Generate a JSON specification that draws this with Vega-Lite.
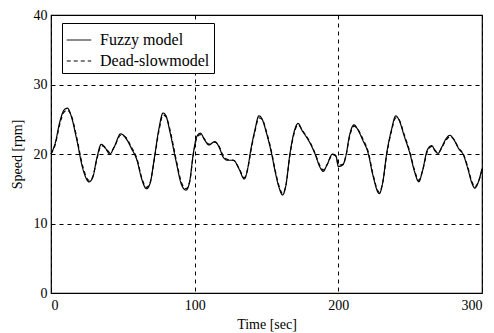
{
  "$schema": "https://vega.github.io/schema/vega-lite/v6.json",
  "width": 431,
  "height": 278,
  "autosize": "none",
  "padding": {"left": 51, "top": 15, "right": 12, "bottom": 40},
  "background": "white",
  "config": {
    "view": {"stroke": "black", "strokeWidth": 1.2},
    "font": "Liberation Serif",
    "axis": {
      "labelFont": "Liberation Serif",
      "titleFont": "Liberation Serif",
      "labelColor": "black",
      "titleColor": "black",
      "labelFontSize": 14,
      "titleFontSize": 14,
      "titleFontWeight": "normal",
      "domain": false,
      "ticks": false,
      "grid": true,
      "gridColor": "black",
      "gridDash": [4, 4],
      "gridWidth": 1,
      "gridOpacity": 1
    }
  },
  "datasets": {
    "speed": [
      {"t": 0, "y": 20, "model": "Fuzzy model"},
      {"t": 3, "y": 21.6, "model": "Fuzzy model"},
      {"t": 6, "y": 24.5, "model": "Fuzzy model"},
      {"t": 9, "y": 26.3, "model": "Fuzzy model"},
      {"t": 11.5, "y": 26.6, "model": "Fuzzy model"},
      {"t": 14, "y": 25.5, "model": "Fuzzy model"},
      {"t": 18, "y": 22, "model": "Fuzzy model"},
      {"t": 22, "y": 18, "model": "Fuzzy model"},
      {"t": 26.5, "y": 16, "model": "Fuzzy model"},
      {"t": 29, "y": 16.6, "model": "Fuzzy model"},
      {"t": 32, "y": 19.5, "model": "Fuzzy model"},
      {"t": 35, "y": 21.4, "model": "Fuzzy model"},
      {"t": 38, "y": 20.8, "model": "Fuzzy model"},
      {"t": 41, "y": 20, "model": "Fuzzy model"},
      {"t": 44, "y": 21, "model": "Fuzzy model"},
      {"t": 48.5, "y": 22.9, "model": "Fuzzy model"},
      {"t": 52, "y": 22.3, "model": "Fuzzy model"},
      {"t": 56, "y": 20.8, "model": "Fuzzy model"},
      {"t": 60, "y": 19, "model": "Fuzzy model"},
      {"t": 63, "y": 16.5, "model": "Fuzzy model"},
      {"t": 66.5, "y": 15, "model": "Fuzzy model"},
      {"t": 69, "y": 15.8, "model": "Fuzzy model"},
      {"t": 72, "y": 19.5, "model": "Fuzzy model"},
      {"t": 75, "y": 23.5, "model": "Fuzzy model"},
      {"t": 78, "y": 25.9, "model": "Fuzzy model"},
      {"t": 80, "y": 25.5, "model": "Fuzzy model"},
      {"t": 83, "y": 23, "model": "Fuzzy model"},
      {"t": 87, "y": 19, "model": "Fuzzy model"},
      {"t": 91, "y": 15.5, "model": "Fuzzy model"},
      {"t": 94, "y": 14.8, "model": "Fuzzy model"},
      {"t": 96.5, "y": 16, "model": "Fuzzy model"},
      {"t": 99, "y": 20, "model": "Fuzzy model"},
      {"t": 101.5, "y": 22.5, "model": "Fuzzy model"},
      {"t": 104, "y": 23, "model": "Fuzzy model"},
      {"t": 107, "y": 22, "model": "Fuzzy model"},
      {"t": 110, "y": 21.3, "model": "Fuzzy model"},
      {"t": 114, "y": 21.8, "model": "Fuzzy model"},
      {"t": 117, "y": 21, "model": "Fuzzy model"},
      {"t": 120, "y": 19.5, "model": "Fuzzy model"},
      {"t": 123, "y": 19.1, "model": "Fuzzy model"},
      {"t": 127, "y": 19.1, "model": "Fuzzy model"},
      {"t": 131, "y": 17.8, "model": "Fuzzy model"},
      {"t": 134.5, "y": 16.4, "model": "Fuzzy model"},
      {"t": 137, "y": 18, "model": "Fuzzy model"},
      {"t": 139, "y": 20.5, "model": "Fuzzy model"},
      {"t": 142, "y": 23.5, "model": "Fuzzy model"},
      {"t": 144.7, "y": 25.5, "model": "Fuzzy model"},
      {"t": 147, "y": 25, "model": "Fuzzy model"},
      {"t": 150, "y": 23, "model": "Fuzzy model"},
      {"t": 153.5, "y": 20.1, "model": "Fuzzy model"},
      {"t": 156, "y": 17.5, "model": "Fuzzy model"},
      {"t": 159, "y": 15, "model": "Fuzzy model"},
      {"t": 161.2, "y": 14.1, "model": "Fuzzy model"},
      {"t": 163.5, "y": 15.5, "model": "Fuzzy model"},
      {"t": 166.3, "y": 20, "model": "Fuzzy model"},
      {"t": 169, "y": 23, "model": "Fuzzy model"},
      {"t": 172, "y": 24.4, "model": "Fuzzy model"},
      {"t": 175, "y": 23.3, "model": "Fuzzy model"},
      {"t": 177, "y": 22.7, "model": "Fuzzy model"},
      {"t": 180, "y": 21.7, "model": "Fuzzy model"},
      {"t": 184, "y": 19.9, "model": "Fuzzy model"},
      {"t": 187, "y": 18.2, "model": "Fuzzy model"},
      {"t": 189.5, "y": 17.5, "model": "Fuzzy model"},
      {"t": 192, "y": 18.4, "model": "Fuzzy model"},
      {"t": 196, "y": 20, "model": "Fuzzy model"},
      {"t": 198.5, "y": 19.6, "model": "Fuzzy model"},
      {"t": 200, "y": 18.2, "model": "Fuzzy model"},
      {"t": 203, "y": 18.4, "model": "Fuzzy model"},
      {"t": 205.5, "y": 20, "model": "Fuzzy model"},
      {"t": 207.6, "y": 22.5, "model": "Fuzzy model"},
      {"t": 210.9, "y": 24.2, "model": "Fuzzy model"},
      {"t": 213, "y": 23.7, "model": "Fuzzy model"},
      {"t": 217, "y": 22, "model": "Fuzzy model"},
      {"t": 220.8, "y": 20.1, "model": "Fuzzy model"},
      {"t": 224, "y": 17, "model": "Fuzzy model"},
      {"t": 228.5, "y": 14.3, "model": "Fuzzy model"},
      {"t": 231, "y": 16, "model": "Fuzzy model"},
      {"t": 233.6, "y": 20, "model": "Fuzzy model"},
      {"t": 237, "y": 23.5, "model": "Fuzzy model"},
      {"t": 240, "y": 25.5, "model": "Fuzzy model"},
      {"t": 242, "y": 25, "model": "Fuzzy model"},
      {"t": 246, "y": 22.5, "model": "Fuzzy model"},
      {"t": 249.8, "y": 20.1, "model": "Fuzzy model"},
      {"t": 253, "y": 17.5, "model": "Fuzzy model"},
      {"t": 256, "y": 16, "model": "Fuzzy model"},
      {"t": 258.5, "y": 17.5, "model": "Fuzzy model"},
      {"t": 262, "y": 20.6, "model": "Fuzzy model"},
      {"t": 265, "y": 21.2, "model": "Fuzzy model"},
      {"t": 267.5, "y": 20.4, "model": "Fuzzy model"},
      {"t": 269.5, "y": 20.1, "model": "Fuzzy model"},
      {"t": 272, "y": 21, "model": "Fuzzy model"},
      {"t": 275, "y": 22.2, "model": "Fuzzy model"},
      {"t": 277.7, "y": 22.7, "model": "Fuzzy model"},
      {"t": 280, "y": 22.2, "model": "Fuzzy model"},
      {"t": 284, "y": 20.7, "model": "Fuzzy model"},
      {"t": 287, "y": 19.9, "model": "Fuzzy model"},
      {"t": 290, "y": 18, "model": "Fuzzy model"},
      {"t": 293, "y": 15.8, "model": "Fuzzy model"},
      {"t": 295, "y": 15.1, "model": "Fuzzy model"},
      {"t": 297.5, "y": 16, "model": "Fuzzy model"},
      {"t": 300, "y": 17.9, "model": "Fuzzy model"},

      {"t": 0, "y": 20, "model": "Dead-slowmodel"},
      {"t": 3, "y": 21.4, "model": "Dead-slowmodel"},
      {"t": 6, "y": 24.2, "model": "Dead-slowmodel"},
      {"t": 9, "y": 26.0, "model": "Dead-slowmodel"},
      {"t": 11.5, "y": 26.3, "model": "Dead-slowmodel"},
      {"t": 14, "y": 25.6, "model": "Dead-slowmodel"},
      {"t": 18, "y": 22.3, "model": "Dead-slowmodel"},
      {"t": 22, "y": 18.3, "model": "Dead-slowmodel"},
      {"t": 26.5, "y": 16.2, "model": "Dead-slowmodel"},
      {"t": 29, "y": 16.7, "model": "Dead-slowmodel"},
      {"t": 32, "y": 19.3, "model": "Dead-slowmodel"},
      {"t": 35, "y": 21.2, "model": "Dead-slowmodel"},
      {"t": 38, "y": 20.9, "model": "Dead-slowmodel"},
      {"t": 41, "y": 20.2, "model": "Dead-slowmodel"},
      {"t": 44, "y": 21, "model": "Dead-slowmodel"},
      {"t": 48.5, "y": 22.7, "model": "Dead-slowmodel"},
      {"t": 52, "y": 22.4, "model": "Dead-slowmodel"},
      {"t": 56, "y": 21, "model": "Dead-slowmodel"},
      {"t": 60, "y": 19.2, "model": "Dead-slowmodel"},
      {"t": 63, "y": 16.7, "model": "Dead-slowmodel"},
      {"t": 66.5, "y": 15.2, "model": "Dead-slowmodel"},
      {"t": 69, "y": 15.9, "model": "Dead-slowmodel"},
      {"t": 72, "y": 19.3, "model": "Dead-slowmodel"},
      {"t": 75, "y": 23.2, "model": "Dead-slowmodel"},
      {"t": 78, "y": 25.6, "model": "Dead-slowmodel"},
      {"t": 80, "y": 25.4, "model": "Dead-slowmodel"},
      {"t": 83, "y": 23.3, "model": "Dead-slowmodel"},
      {"t": 87, "y": 19.3, "model": "Dead-slowmodel"},
      {"t": 91, "y": 15.8, "model": "Dead-slowmodel"},
      {"t": 94, "y": 15.0, "model": "Dead-slowmodel"},
      {"t": 96.5, "y": 16, "model": "Dead-slowmodel"},
      {"t": 99, "y": 19.8, "model": "Dead-slowmodel"},
      {"t": 101.5, "y": 22.3, "model": "Dead-slowmodel"},
      {"t": 104, "y": 22.8, "model": "Dead-slowmodel"},
      {"t": 107, "y": 22.1, "model": "Dead-slowmodel"},
      {"t": 110, "y": 21.4, "model": "Dead-slowmodel"},
      {"t": 114, "y": 21.7, "model": "Dead-slowmodel"},
      {"t": 117, "y": 21.1, "model": "Dead-slowmodel"},
      {"t": 120, "y": 19.7, "model": "Dead-slowmodel"},
      {"t": 123, "y": 19.2, "model": "Dead-slowmodel"},
      {"t": 127, "y": 19.1, "model": "Dead-slowmodel"},
      {"t": 131, "y": 17.9, "model": "Dead-slowmodel"},
      {"t": 134.5, "y": 16.6, "model": "Dead-slowmodel"},
      {"t": 137, "y": 17.9, "model": "Dead-slowmodel"},
      {"t": 139, "y": 20.3, "model": "Dead-slowmodel"},
      {"t": 142, "y": 23.3, "model": "Dead-slowmodel"},
      {"t": 144.7, "y": 25.2, "model": "Dead-slowmodel"},
      {"t": 147, "y": 25, "model": "Dead-slowmodel"},
      {"t": 150, "y": 23.2, "model": "Dead-slowmodel"},
      {"t": 153.5, "y": 20.3, "model": "Dead-slowmodel"},
      {"t": 156, "y": 17.7, "model": "Dead-slowmodel"},
      {"t": 159, "y": 15.2, "model": "Dead-slowmodel"},
      {"t": 161.2, "y": 14.3, "model": "Dead-slowmodel"},
      {"t": 163.5, "y": 15.5, "model": "Dead-slowmodel"},
      {"t": 166.3, "y": 19.8, "model": "Dead-slowmodel"},
      {"t": 169, "y": 22.8, "model": "Dead-slowmodel"},
      {"t": 172, "y": 24.2, "model": "Dead-slowmodel"},
      {"t": 175, "y": 23.4, "model": "Dead-slowmodel"},
      {"t": 177, "y": 22.8, "model": "Dead-slowmodel"},
      {"t": 180, "y": 21.8, "model": "Dead-slowmodel"},
      {"t": 184, "y": 20, "model": "Dead-slowmodel"},
      {"t": 187, "y": 18.4, "model": "Dead-slowmodel"},
      {"t": 189.5, "y": 17.7, "model": "Dead-slowmodel"},
      {"t": 192, "y": 18.4, "model": "Dead-slowmodel"},
      {"t": 196, "y": 19.9, "model": "Dead-slowmodel"},
      {"t": 198.5, "y": 19.7, "model": "Dead-slowmodel"},
      {"t": 200, "y": 18.4, "model": "Dead-slowmodel"},
      {"t": 203, "y": 18.5, "model": "Dead-slowmodel"},
      {"t": 205.5, "y": 19.9, "model": "Dead-slowmodel"},
      {"t": 207.6, "y": 22.3, "model": "Dead-slowmodel"},
      {"t": 210.9, "y": 24.0, "model": "Dead-slowmodel"},
      {"t": 213, "y": 23.7, "model": "Dead-slowmodel"},
      {"t": 217, "y": 22.2, "model": "Dead-slowmodel"},
      {"t": 220.8, "y": 20.3, "model": "Dead-slowmodel"},
      {"t": 224, "y": 17.2, "model": "Dead-slowmodel"},
      {"t": 228.5, "y": 14.5, "model": "Dead-slowmodel"},
      {"t": 231, "y": 16, "model": "Dead-slowmodel"},
      {"t": 233.6, "y": 19.8, "model": "Dead-slowmodel"},
      {"t": 237, "y": 23.3, "model": "Dead-slowmodel"},
      {"t": 240, "y": 25.2, "model": "Dead-slowmodel"},
      {"t": 242, "y": 25, "model": "Dead-slowmodel"},
      {"t": 246, "y": 22.7, "model": "Dead-slowmodel"},
      {"t": 249.8, "y": 20.3, "model": "Dead-slowmodel"},
      {"t": 253, "y": 17.7, "model": "Dead-slowmodel"},
      {"t": 256, "y": 16.2, "model": "Dead-slowmodel"},
      {"t": 258.5, "y": 17.5, "model": "Dead-slowmodel"},
      {"t": 262, "y": 20.4, "model": "Dead-slowmodel"},
      {"t": 265, "y": 21.1, "model": "Dead-slowmodel"},
      {"t": 267.5, "y": 20.5, "model": "Dead-slowmodel"},
      {"t": 269.5, "y": 20.2, "model": "Dead-slowmodel"},
      {"t": 272, "y": 20.9, "model": "Dead-slowmodel"},
      {"t": 275, "y": 22.0, "model": "Dead-slowmodel"},
      {"t": 277.7, "y": 22.5, "model": "Dead-slowmodel"},
      {"t": 280, "y": 22.2, "model": "Dead-slowmodel"},
      {"t": 284, "y": 20.8, "model": "Dead-slowmodel"},
      {"t": 287, "y": 20.0, "model": "Dead-slowmodel"},
      {"t": 290, "y": 18.2, "model": "Dead-slowmodel"},
      {"t": 293, "y": 16.0, "model": "Dead-slowmodel"},
      {"t": 295, "y": 15.3, "model": "Dead-slowmodel"},
      {"t": 297.5, "y": 16, "model": "Dead-slowmodel"},
      {"t": 300, "y": 17.7, "model": "Dead-slowmodel"}
    ]
  },
  "data": {"name": "speed"},
  "mark": {"type": "line", "color": "black", "strokeWidth": 1.2, "interpolate": "monotone"},
  "encoding": {
    "x": {
      "field": "t",
      "type": "quantitative",
      "scale": {"domain": [0, 300], "nice": false},
      "axis": {"values": [0, 100, 200, 300], "title": "Time [sec]", "labelPadding": 5, "titlePadding": 5}
    },
    "y": {
      "field": "y",
      "type": "quantitative",
      "scale": {"domain": [0, 40], "nice": false},
      "axis": {"values": [0, 10, 20, 30, 40], "title": "Speed [rpm]", "labelPadding": 4, "titlePadding": 9}
    },
    "strokeDash": {
      "field": "model",
      "type": "nominal",
      "scale": {"domain": ["Fuzzy model", "Dead-slowmodel"], "range": [[1, 0], [4, 3]]},
      "legend": {
        "title": null,
        "orient": "none",
        "legendX": 11,
        "legendY": 8,
        "strokeColor": "black",
        "fillColor": "white",
        "padding": 4,
        "symbolType": "stroke",
        "symbolSize": 600,
        "symbolStrokeColor": "black",
        "symbolStrokeWidth": 1,
        "labelFont": "Liberation Serif",
        "labelFontSize": 16,
        "labelColor": "black",
        "labelOffset": 8,
        "rowPadding": 0
      }
    }
  }
}
